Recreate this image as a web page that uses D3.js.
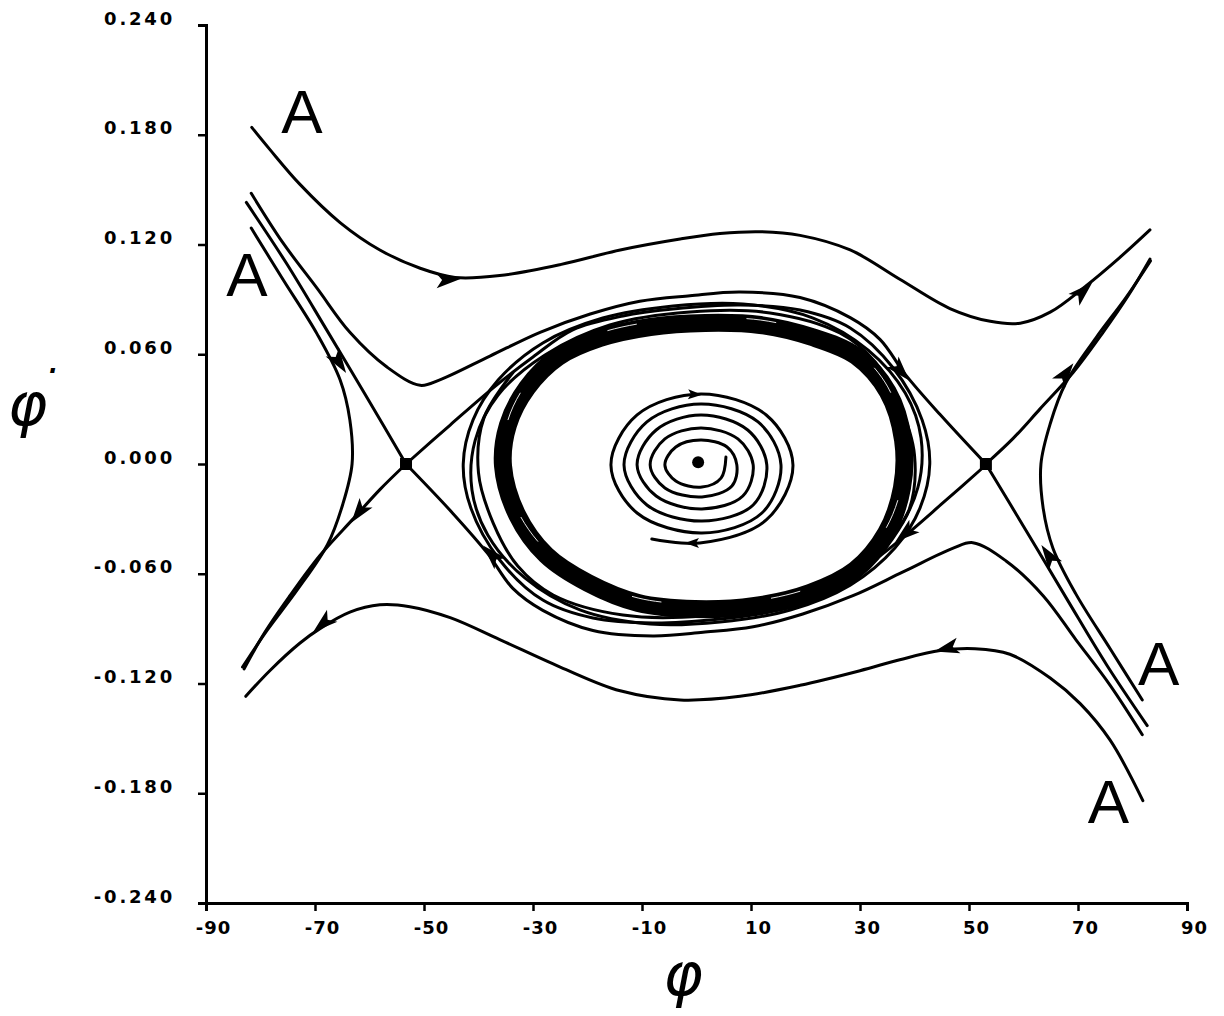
<!DOCTYPE html>
<html><head><meta charset="utf-8">
<script src="https://cdn.jsdelivr.net/npm/d3@7"></script>
<style>body{margin:0;background:#fff}</style>
</head><body>
<svg id="c" width="1224" height="1016"></svg>
<script>
// ---------- axis ticks ----------
const xTicks = [-90,-70,-50,-30,-10,10,30,50,70,90];
const xTickLabels = ["-90","-70","-50","-30","-10","10","30","50","70","90"];
const yTicks = [0.24,0.18,0.12,0.06,0,-0.06,-0.12,-0.18,-0.24];
const yTickLabels = ["0.240","0.180","0.120","0.060","0.000","-0.060","-0.120","-0.180","-0.240"];

// ---------- trajectories (phi, phi-dot) ----------
const topX = [-81.6,-78.3,-72.8,-65.4,-58.1,-50.7,-44.3,-36.1,-25.0,-14.0,-3.0,4.3,11.7,19.0,28.2,37.3,46.5,53.9,59.4,64.9,71.3,77.7,83.2];
const topY = [0.184,0.172,0.153,0.132,0.117,0.107,0.102,0.103,0.109,0.117,0.123,0.126,0.127,0.125,0.117,0.101,0.085,0.078,0.077,0.083,0.097,0.113,0.128];
const botX = [-82.7,-78.3,-72.8,-69.1,-63.6,-58.1,-52.6,-45.2,-36.1,-25.0,-14.0,-3.0,8.0,19.0,30.0,37.3,44.7,51.1,57.5,64.9,70.4,75.9,81.9];
const botY = [-0.127,-0.113,-0.098,-0.090,-0.081,-0.077,-0.078,-0.084,-0.096,-0.111,-0.124,-0.129,-0.127,-0.121,-0.113,-0.107,-0.102,-0.101,-0.104,-0.117,-0.131,-0.151,-0.184];
const upX = [-81.7,-75.9,-69.6,-63.6,-56.8,-50.7,-47.1,-37.9,-28.7,-19.5,-10.4,-1.2,8.0,19.0,28.2,33.7,38.3,44.7,53.1];
const upY = [0.148,0.121,0.096,0.072,0.053,0.043,0.046,0.059,0.072,0.082,0.089,0.092,0.094,0.091,0.080,0.068,0.049,0.027,0.0];
const lowX = [81.8,75.9,69.6,63.6,56.8,50.7,47.1,37.9,28.7,19.5,10.4,1.2,-8.0,-19.0,-28.2,-33.7,-38.3,-44.7,-53.3];
const lowY = [-0.148,-0.121,-0.096,-0.072,-0.053,-0.043,-0.046,-0.059,-0.072,-0.082,-0.089,-0.092,-0.094,-0.091,-0.080,-0.068,-0.049,-0.027,0.0];
const linX = [-82.6,-75.3,-68.0,-60.6,-53.3];
const linY = [0.143,0.110,0.074,0.037,0.0];
const loutX = [-53.3,-58.1,-63.0,-69.1,-74.6,-79.2,-83.0];
const loutY = [0.0,-0.014,-0.030,-0.050,-0.072,-0.092,-0.112];
const rinX = [82.7,75.3,68.0,60.6,53.1];
const rinY = [-0.143,-0.110,-0.074,-0.037,0.0];
const routX = [53.1,58.1,63.0,69.1,74.6,79.2,83.2];
const routY = [0.0,0.014,0.030,0.050,0.072,0.092,0.112];
const hlX = [-81.7,-75.9,-69.6,-65.4,-63.6,-63.2,-64.9,-67.7,-73.3,-78.8,-83.3];
const hlY = [0.129,0.101,0.071,0.046,0.024,0.0,-0.022,-0.044,-0.069,-0.091,-0.111];
const hrX = [81.8,75.9,69.6,65.4,63.6,63.2,64.9,67.7,73.3,78.8,83.3];
const hrY = [-0.129,-0.101,-0.071,-0.046,-0.024,0.0,0.022,0.044,0.069,0.091,0.111];
// unstable branch of left saddle winding onto the cycle
const l1X = [-53.3,-45.2,-37.3,-30.0,-22.7,-13.5,-4.3,8.0,19.0,28.2,36.1,41.4,42.8,41.0,36.4,28.2,17.2,4.3,-8.5,-21.4,-31.5,-38.3,-41.2,-40.6,-36.4,-27.8,-15.9,-1.2,13.5,26.3,32.8,37.3,40.0,39.0,33.7];
const l1Y = [0.0,0.0213,0.0416,0.0585,0.0733,0.0809,0.0847,0.0869,0.0842,0.0744,0.0525,0.0241,0.0,-0.0241,-0.0459,-0.0662,-0.0798,-0.0864,-0.0875,-0.0798,-0.0623,-0.0388,-0.0142,0.0131,0.0377,0.0596,0.0760,0.0831,0.0826,0.0716,0.0558,0.0323,0.0049,-0.0252,-0.0498];
// unstable branch of right saddle winding onto the cycle
const r1X = [53.3,45.2,37.3,30.0,22.7,13.5,4.3,-8.0,-19.0,-28.2,-36.1,-41.4,-42.8,-41.0,-36.4,-28.2,-17.2,-4.3,8.5,21.4,31.5,38.3,41.2,40.6,36.4,27.8,15.9,1.2,-13.5,-26.3,-32.8,-37.3,-40.0,-39.0,-33.7];
const r1Y = [0.0,-0.0213,-0.0416,-0.0585,-0.0733,-0.0809,-0.0847,-0.0869,-0.0842,-0.0744,-0.0525,-0.0241,0.0,0.0241,0.0459,0.0662,0.0798,0.0864,0.0875,0.0798,0.0623,0.0388,0.0142,-0.0131,-0.0377,-0.0596,-0.0760,-0.0831,-0.0826,-0.0716,-0.0558,-0.0323,-0.0049,0.0252,0.0498];
// limit cycle (dense band)
const bandX = [-35.5,-34.6,-31.1,-25.4,-17.7,-8.5,1.6,11.7,21.2,29.3,35.1,37.9,37.7,34.8,29.1,20.8,10.7,-0.3,-10.7,-19.9,-27.6,-32.9];
const bandY = [-0.0011,0.0213,0.0416,0.0585,0.0689,0.0749,0.0771,0.0760,0.0694,0.0590,0.0394,0.0131,-0.0131,-0.0377,-0.0580,-0.0705,-0.0776,-0.0793,-0.0760,-0.0651,-0.0498,-0.0279];
// spiral around the focus
const spiralX = [5.4,4.5,1.0,-3.8,-5.8,-3.8,0.8,5.6,7.4,6.5,1.0,-5.8,-8.5,-5.8,0.8,7.6,10.4,8.5,1.0,-7.4,-10.9,-7.4,0.8,9.4,12.9,10.4,1.0,-9.1,-13.3,-9.1,0.8,11.3,15.5,12.0,1.0,-10.9,-15.7,-10.9,0.8,12.8,17.7,12.8,0.6,-8.2];
const spiralY = [0.0038,-0.0077,-0.0126,-0.0093,-0.0005,0.0093,0.0131,0.0093,-0.0005,-0.0120,-0.0180,-0.0131,-0.0005,0.0137,0.0197,0.0137,-0.0005,-0.0175,-0.0246,-0.0175,-0.0005,0.0186,0.0268,0.0186,-0.0005,-0.0224,-0.0312,-0.0224,-0.0005,0.0230,0.0328,0.0230,-0.0005,-0.0268,-0.0377,-0.0268,-0.0005,0.0268,0.0383,0.0268,-0.0005,-0.0306,-0.0432,-0.0410];

// arrows: position and a point in the direction of motion
const arrowX   = [-44.3,71.8,38.3,-64.9,-62.7,68.5,63.9,37.3,-38.4,44.7,-69.5,0.1,-1.2];
const arrowY   = [0.1011,0.0968,0.0481,0.0525,-0.0295,0.0525,-0.047,-0.0405,-0.047,-0.1017,-0.0897,0.0380,-0.0432];
const arrowToX = [-36.1,77.7,44.7,-53.3,-83.0,83.2,53.1,30.0,-53.3,37.3,-76.4,4.3,-4.9];
const arrowToY = [0.1028,0.1132,0.0268,0.0,-0.1115,0.1115,0.0,-0.0585,0.0,-0.1072,-0.1072,0.0375,-0.0432];

// equilibria
const saddleX = [-53.3,53.1];
const saddleY = [0,0];
const focusX = [0.3];
const focusY = [0.001];

// "A" labels
const labelText = ["A","A","A","A"];
const labelX = [-76.2,-86.3,81.0,71.8];
const labelY = [0.181,0.092,-0.121,-0.196];

// ---------- drawing ----------
const svg = d3.select("#c");
const x = d3.scaleLinear().domain([-90,90]).range([206,1187]);
const y = d3.scaleLinear().domain([-0.24,0.24]).range([903,25]);
const tickFont = "'DejaVu Sans', Arial, sans-serif";

const gx = svg.append("g").attr("transform",`translate(0,${y(-0.24)})`)
  .call(d3.axisBottom(x).tickValues(xTicks).tickSize(8).tickSizeOuter(8)
    .tickFormat((d,i)=>xTickLabels[i]));
gx.select(".domain").attr("stroke","#000").attr("stroke-width",3);
gx.selectAll(".tick line").attr("stroke","#000").attr("stroke-width",2.5);
gx.selectAll(".tick text").attr("font-family",tickFont).attr("font-weight","bold")
  .attr("font-size",18).attr("fill","#000").attr("dy","1.1em").attr("dx",7)
  .style("letter-spacing","1px");

const gy = svg.append("g").attr("transform",`translate(${x(-90)},0)`)
  .call(d3.axisLeft(y).tickValues(yTicks).tickSize(8).tickSizeOuter(8)
    .tickFormat((d,i)=>yTickLabels[i]));
gy.select(".domain").attr("stroke","#000").attr("stroke-width",3);
gy.selectAll(".tick line").attr("stroke","#000").attr("stroke-width",2.5);
gy.selectAll(".tick text").attr("font-family",tickFont).attr("font-weight","bold")
  .attr("font-size",18).attr("fill","#000").attr("x",-31).attr("dy","-0.05em")
  .style("letter-spacing","2.8px");

svg.append("text").attr("x",683).attr("y",995).attr("text-anchor","middle")
  .attr("font-family","'DejaVu Sans', sans-serif").attr("font-style","italic")
  .attr("font-size",60).attr("fill","#000").text("φ");
const yt = svg.append("text").attr("x",33).attr("y",425).attr("text-anchor","middle")
  .attr("font-family","'DejaVu Sans', sans-serif").attr("font-style","italic")
  .attr("font-size",60).attr("fill","#000");
yt.append("tspan").text("φ");
yt.append("tspan").attr("font-size",40).attr("dx",-2).attr("dy",-40).text("·");

const plot = svg.append("g");
const lineGen = d3.line().x(d=>x(d[0])).y(d=>y(d[1])).curve(d3.curveCatmullRom.alpha(0.5));
const closedGen = d3.line().x(d=>x(d[0])).y(d=>y(d[1])).curve(d3.curveCatmullRomClosed.alpha(0.5));
const zip = (a,b)=>a.map((v,i)=>[v,b[i]]);

const openCurves = [
  [topX,topY],[botX,botY],[upX,upY],[lowX,lowY],[linX,linY],[loutX,loutY],
  [rinX,rinY],[routX,routY],[hlX,hlY],[hrX,hrY],[l1X,l1Y],[r1X,r1Y],[spiralX,spiralY]
];
plot.selectAll("path.traj").data(openCurves).join("path").attr("class","traj")
  .attr("d",d=>lineGen(zip(d[0],d[1]))).attr("fill","none").attr("stroke","#000")
  .attr("stroke-width",3).attr("stroke-linejoin","round").attr("stroke-linecap","round");

plot.append("path").attr("d",closedGen(zip(bandX,bandY))).attr("fill","none")
  .attr("stroke","#000").attr("stroke-width",18);
plot.append("path").attr("d",closedGen(zip(bandX,bandY))).attr("fill","none")
  .attr("stroke","#fff").attr("stroke-width",1).attr("stroke-dasharray","30 110").attr("opacity",0.9)
  .attr("transform","translate(0,-5)");

const arrows = arrowX.map((v,i)=>({x:v,y:arrowY[i],tx:arrowToX[i],ty:arrowToY[i],small:i>=11}));
plot.selectAll("path.arrow").data(arrows).join("path").attr("class","arrow")
  .attr("d",d=>d.small?"M5,0L-9,-5L-6,0L-9,5Z":"M6,0L-19,-8L-13,0L-19,8Z")
  .attr("fill","#000")
  .attr("transform",d=>{
    const px=x(d.x),py=y(d.y);
    const a=Math.atan2(y(d.ty)-py,x(d.tx)-px)*180/Math.PI;
    return `translate(${px},${py}) rotate(${a})`;
  });

plot.selectAll("rect.saddle").data(saddleX.map((v,i)=>[v,saddleY[i]])).join("rect")
  .attr("class","saddle").attr("x",d=>x(d[0])-6).attr("y",d=>y(d[1])-6)
  .attr("width",12).attr("height",12).attr("fill","#000");
plot.selectAll("circle.focus").data(focusX.map((v,i)=>[v,focusY[i]])).join("circle")
  .attr("class","focus").attr("cx",d=>x(d[0])).attr("cy",d=>y(d[1])).attr("r",6).attr("fill","#000");

svg.selectAll("text.lab").data(labelText).join("text").attr("class","lab")
  .attr("x",(d,i)=>x(labelX[i])).attr("y",(d,i)=>y(labelY[i]))
  .attr("font-family","'Liberation Sans', Arial, sans-serif").attr("font-size",62)
  .attr("fill","#000").text(d=>d);
</script>
</body></html>
